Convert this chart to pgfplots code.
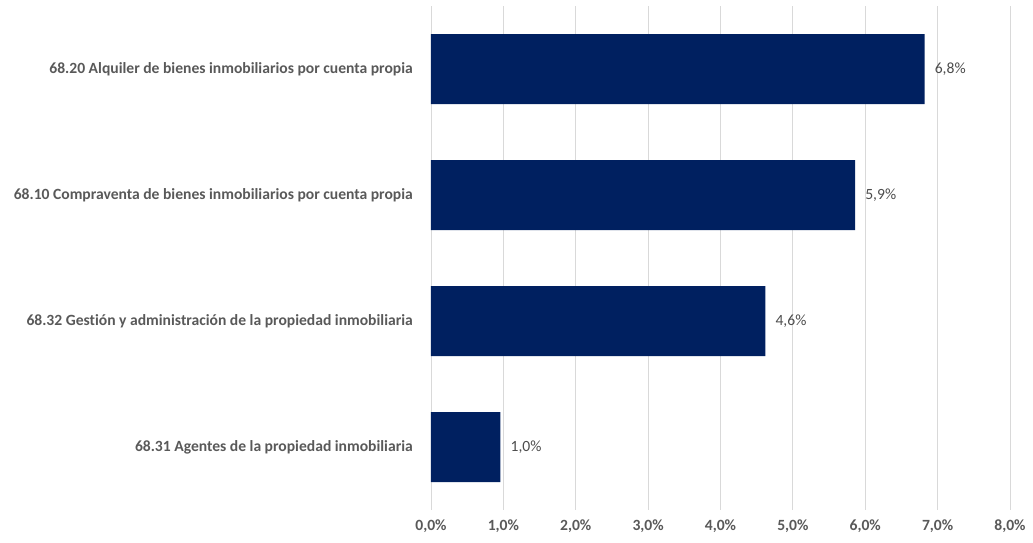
\documentclass[border=0pt]{standalone}
\usepackage{pgfplots}
\pgfplotsset{compat=1.18}
\usepackage{fontspec}
\setmainfont{Carlito}[Ligatures=NoCommon]
\definecolor{barblue}{HTML}{002060}
\definecolor{lblgray}{HTML}{595959}
\definecolor{gridgray}{HTML}{D9D9D9}
\begin{document}
\begin{tikzpicture}
\begin{axis}[
  xbar,
  scale only axis,
  width=579pt, height=504pt,
  xmin=0, xmax=8,
  ymin=-0.5, ymax=3.5,
  y dir=reverse,
  bar width=70pt,
  axis line style={draw=none},
  major tick length=0pt,
  xmajorgrids=true,
  grid style={gridgray, line width=0.8pt},
  xtick={0,1,2,3,4,5,6,7,8},
  xticklabels={{0,0\%},{1,0\%},{2,0\%},{3,0\%},{4,0\%},{5,0\%},{6,0\%},{7,0\%},{8,0\%}},
  xticklabel style={font=\fontsize{15.6}{18}\selectfont\bfseries, text=lblgray, inner sep=0pt, yshift=-10pt},
  ytick={0,1,2,3},
  yticklabels={
    {68.20 Alquiler de bienes inmobiliarios por cuenta propia},
    {68.10 Compraventa de bienes inmobiliarios por cuenta propia},
    {68.32 Gestión y administración de la propiedad inmobiliaria},
    {68.31 Agentes de la propiedad inmobiliaria}},
  yticklabel style={font=\fontsize{15.6}{18}\selectfont\bfseries, text=lblgray, inner sep=0pt, xshift=-18pt},
  point meta=explicit symbolic,
  nodes near coords,
  nodes near coords style={font=\fontsize{15.6}{18}\selectfont, text=lblgray!85!black, anchor=west, inner sep=0pt, xshift=10pt},
]
\addplot[fill=barblue, draw=none] coordinates {
  (6.82,0) [6,8\%]
  (5.86,1) [5,9\%]
  (4.62,2) [4,6\%]
  (0.96,3) [1,0\%]
};
\coordinate (O) at (rel axis cs:0,0);
\end{axis}
\path (O) ++(-431pt,-32pt) rectangle ++(1033pt,542pt);
\end{tikzpicture}
\end{document}
